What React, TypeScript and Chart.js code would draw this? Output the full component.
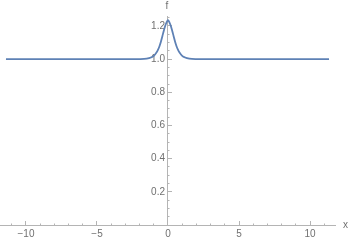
import React, { useEffect, useRef } from "react";
import { Chart, registerables } from "chart.js";

Chart.register(...registerables);

const xValues = [-11.41, -3, -2, -1.5, -1.2, -1.0, -0.8, -0.7, -0.6, -0.5, -0.4, -0.3, -0.2, -0.1, 0, 0.1, 0.2, 0.3, 0.4, 0.5, 0.6, 0.7, 0.8, 1.0, 1.2, 1.5, 2, 3, 11.34];
const fValues = [1, 1, 1.0005, 1.003, 1.01, 1.02, 1.041, 1.057, 1.078, 1.105, 1.137, 1.17, 1.2, 1.222, 1.235, 1.222, 1.2, 1.17, 1.137, 1.105, 1.078, 1.057, 1.041, 1.02, 1.01, 1.003, 1.0005, 1, 1];
const xMajorTicks = [-10, -5, 0, 5, 10];
const yMajorTicks = [0.2, 0.4, 0.6, 0.8, 1.0, 1.2];
const xTitle = "x";
const yTitle = "f";

const X_MIN = -11.83;
const X_MAX = 11.76;
const Y_MIN = 0;
const Y_MAX = 1.26;

const AXIS_COLOR = "#b4b4b4";
const LABEL_COLOR = "#707070";
const FONT = { family: "'Liberation Sans', Arial, sans-serif", size: 10 };

function fmtX(v: number) {
  return v < 0 ? "\u2212" + Math.abs(v) : String(v);
}

const titlePlugin = {
  id: "axisTitles",
  afterDraw(chart: any) {
    const ctx = chart.ctx;
    const xs = chart.scales.x;
    const ys = chart.scales.y;
    ctx.save();
    ctx.fillStyle = LABEL_COLOR;
    ctx.font = `10px ${FONT.family}`;
    ctx.textBaseline = "middle";
    ctx.textAlign = "left";
    ctx.fillText(xTitle, xs.right + 8, ys.getPixelForValue(0));
    ctx.textAlign = "center";
    ctx.fillText(yTitle, xs.getPixelForValue(0) - 1, ys.top - 10);
    ctx.restore();
  },
};

export default function App() {
  const ref = useRef<HTMLCanvasElement | null>(null);
  useEffect(() => {
    if (!ref.current) return;
    const base = { type: "linear" as const, min: X_MIN, max: X_MAX };
    const ybase = { type: "linear" as const, min: Y_MIN, max: Y_MAX };
    const chart = new Chart(ref.current, {
      type: "line",
      data: {
        datasets: [
          {
            data: xValues.map((x, i) => ({ x, y: fValues[i] })),
            borderColor: "#5E81B5",
            borderWidth: 1.8,
            pointRadius: 0,
            cubicInterpolationMode: "monotone",
            fill: false,
          },
        ],
      },
      options: {
        responsive: false,
        animation: false,
        events: [],
        layout: { padding: { left: 0, right: 14, top: 16, bottom: 17 } },
        plugins: { legend: { display: false }, tooltip: { enabled: false }, title: { display: false } },
        scales: {
          x: {
            ...base,
            position: { y: 0 } as any,
            ticks: { stepSize: 1, display: false, includeBounds: false },
            grid: { display: true, drawOnChartArea: false, drawTicks: true, tickLength: -2.5, color: AXIS_COLOR, tickWidth: 1 },
            border: { display: true, color: AXIS_COLOR, width: 1 },
          },
          xM: {
            ...base,
            position: { y: 0 } as any,
            ticks: { stepSize: 5, display: false, includeBounds: false },
            grid: { display: true, drawOnChartArea: false, drawTicks: true, tickLength: -4, color: AXIS_COLOR, tickWidth: 1 },
            border: { display: false },
          },
          xL: {
            ...base,
            position: { y: 0 } as any,
            afterBuildTicks: (s: any) => { s.ticks = xMajorTicks.map((v) => ({ value: v })); },
            ticks: { display: true, padding: 3, color: LABEL_COLOR, font: FONT, maxRotation: 0, autoSkip: false, callback: (v: any) => fmtX(Number(v)) },
            grid: { display: false, drawTicks: false },
            border: { display: false },
          },
          y: {
            ...ybase,
            position: { x: 0 } as any,
            ticks: { stepSize: 0.05, display: false, includeBounds: false },
            grid: { display: true, drawOnChartArea: false, drawTicks: true, tickLength: -2.5, color: AXIS_COLOR, tickWidth: 1 },
            border: { display: true, color: AXIS_COLOR, width: 1 },
          },
          yM: {
            ...ybase,
            position: { x: 0 } as any,
            ticks: { stepSize: 0.2, display: false, includeBounds: false },
            grid: { display: true, drawOnChartArea: false, drawTicks: true, tickLength: -4, color: AXIS_COLOR, tickWidth: 1 },
            border: { display: false },
          },
          yL: {
            ...ybase,
            position: { x: -0.21 } as any,
            afterBuildTicks: (s: any) => { s.ticks = yMajorTicks.map((v) => ({ value: v })); },
            ticks: { display: true, padding: 0, color: LABEL_COLOR, font: FONT, autoSkip: false, callback: (v: any) => Number(v).toFixed(1) },
            grid: { display: false, drawTicks: false },
            border: { display: false },
          },
        },
      },
      plugins: [titlePlugin],
    } as any);
    return () => chart.destroy();
  }, []);
  return (
    <div style={{ position: "fixed", left: 0, top: 0, width: 349, height: 242, background: "#fff" }}>
      <canvas ref={ref} width={349} height={242} style={{ display: "block" }} />
    </div>
  );
}
